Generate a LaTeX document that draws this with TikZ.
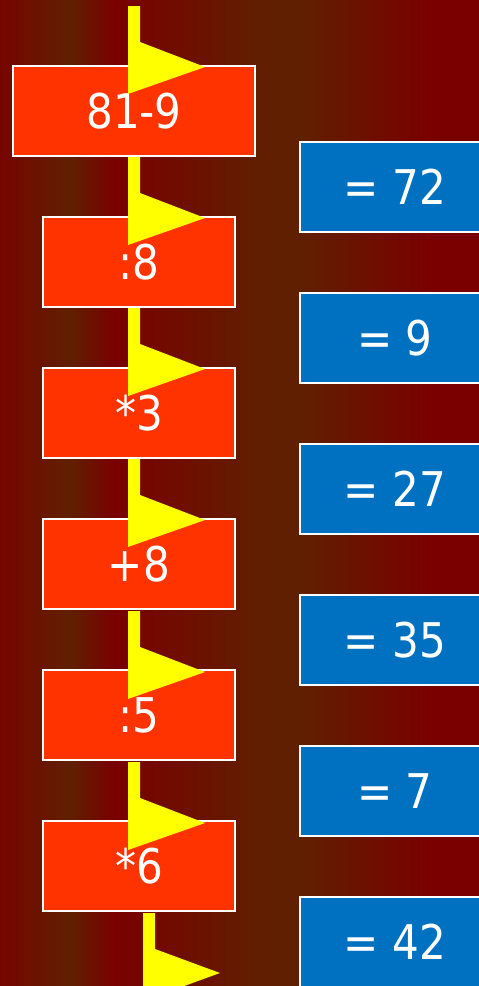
\documentclass[tikz,border=0pt]{standalone}
\usepackage{fontspec}
\setmainfont{DejaVu Sans}[FakeStretch=0.88]
\usetikzlibrary{positioning}
\definecolor{bgred}{RGB}{122,0,0}
\definecolor{bgbrown}{RGB}{96,32,0}
\definecolor{stepred}{RGB}{255,51,0}
\definecolor{resblue}{RGB}{0,112,192}
\definecolor{flagyellow}{RGB}{255,255,0}

\begin{document}
\begin{tikzpicture}[
  x=0.025cm, y=-0.025cm,
  font=\fontsize{34}{40}\selectfont,
  opbox/.style={draw=white, line width=0.8pt, fill=stepred, text=white, minimum width=4.8cm, minimum height=2.25cm, inner sep=0pt},
  resbox/.style={draw=white, line width=0.8pt, fill=resblue, text=white, minimum width=4.75cm, minimum height=2.25cm, inner sep=0pt},
  flag/.style={fill=flagyellow}
]
\clip (0,0) rectangle (479,986);
% background stripes
\shade[left color=bgred!85!bgbrown, right color=bgbrown] (0,0) rectangle (70,986);
\shade[left color=bgbrown, right color=bgred] (70,0) rectangle (115,986);
\shade[left color=bgred, right color=bgbrown] (115,0) rectangle (265,986);
\fill[bgbrown] (264,0) rectangle (301,986);
\shade[left color=bgbrown, right color=bgred] (300,0) rectangle (432,986);
\fill[bgred] (431,0) rectangle (479,986);
% operations
\node[opbox, minimum width=6.05cm] (op1) at (134,111) {81-9};
\foreach \i/\op in {2/{:8},3/{*3},4/{+8},5/{:5},6/{*6}} {
  \node[opbox] (op\i) at (139,{262+151*(\i-2)}) {\op};
}
% results
\foreach \i/\res in {1/72,2/9,3/27,4/35,5/7,6/42} {
  \node[resbox] (res\i) at (395,{187+151*(\i-1)}) {= \res};
}
% flags
\foreach \t in {66,217,368,519,671,822} {
  \fill[flag] (128,\t-60) -- (140,\t-60) -- (140,\t-24) -- (205,\t+1) -- (128,\t+28) -- cycle;
}
\fill[flag] (143,913) -- (155,913) -- (155,949) -- (220,973) -- (143,1001) -- cycle;
\end{tikzpicture}
\end{document}
